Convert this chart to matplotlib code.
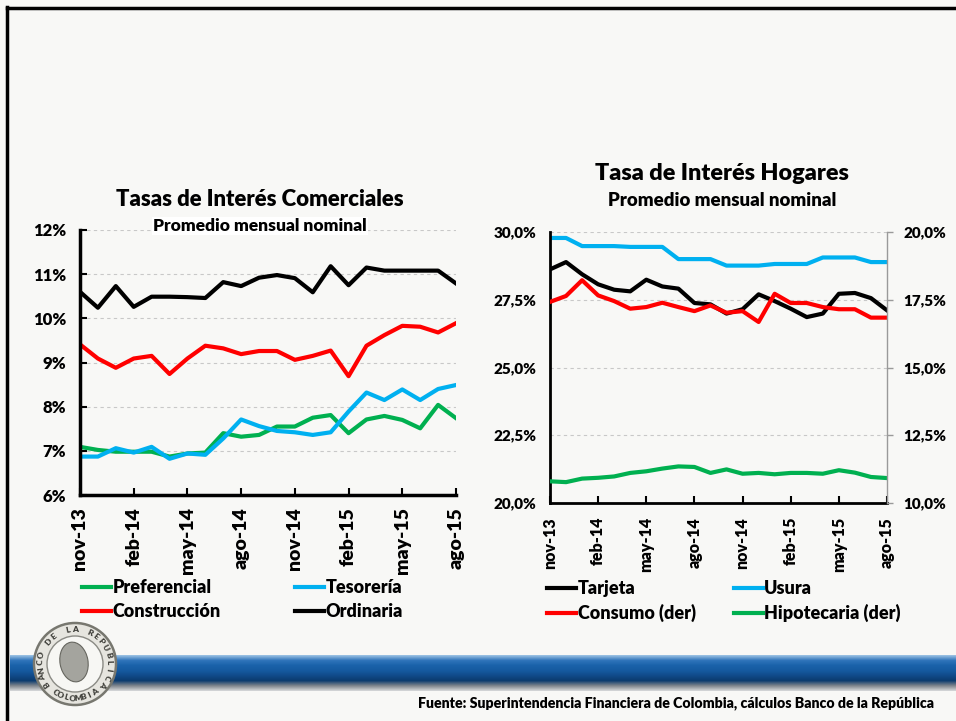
import numpy as np
import matplotlib.pyplot as plt
from matplotlib.patches import Circle, Ellipse
from matplotlib.colors import LinearSegmentedColormap
from matplotlib.ticker import FuncFormatter

plt.rcParams['font.family'] = ['Lato', 'DejaVu Sans']
plt.rcParams['font.weight'] = 'heavy'

meses = ['nov-13', 'dic-13', 'ene-14', 'feb-14', 'mar-14', 'abr-14', 'may-14', 'jun-14',
         'jul-14', 'ago-14', 'sep-14', 'oct-14', 'nov-14', 'dic-14', 'ene-15', 'feb-15',
         'mar-15', 'abr-15', 'may-15', 'jun-15', 'jul-15', 'ago-15']

# tasas comerciales (%)
preferencial = [7.09, 7.02, 6.98, 6.98, 6.98, 6.87, 6.94, 6.96, 7.40, 7.32, 7.36,
                7.55, 7.55, 7.75, 7.81, 7.40, 7.71, 7.79, 7.70, 7.51, 8.04, 7.74]
tesoreria = [6.87, 6.87, 7.06, 6.96, 7.09, 6.82, 6.94, 6.91, 7.28, 7.71, 7.56,
             7.45, 7.42, 7.36, 7.42, 7.89, 8.32, 8.15, 8.39, 8.15, 8.40, 8.49]
construccion = [9.41, 9.09, 8.88, 9.09, 9.15, 8.74, 9.09, 9.38, 9.32, 9.19, 9.26,
                9.26, 9.06, 9.15, 9.27, 8.69, 9.38, 9.62, 9.83, 9.81, 9.68, 9.89]
ordinaria = [10.60, 10.24, 10.73, 10.26, 10.49, 10.49, 10.48, 10.46, 10.82, 10.73, 10.92,
             10.98, 10.91, 10.59, 11.18, 10.75, 11.15, 11.08, 11.08, 11.08, 11.08, 10.79]

# tasas hogares (%)
tarjeta = [28.62, 28.89, 28.44, 28.07, 27.87, 27.81, 28.24, 27.99, 27.91, 27.38, 27.33,
           26.99, 27.15, 27.70, 27.45, 27.17, 26.86, 26.99, 27.72, 27.75, 27.56, 27.11]
usura = [29.78, 29.78, 29.48, 29.48, 29.48, 29.45, 29.45, 29.45, 29.00, 29.00, 29.00,
         28.76, 28.76, 28.76, 28.82, 28.82, 28.82, 29.06, 29.06, 29.06, 28.89, 28.89]
consumo = [17.42, 17.64, 18.22, 17.66, 17.45, 17.17, 17.23, 17.39, 17.23, 17.08, 17.29,
           17.02, 17.08, 16.68, 17.72, 17.38, 17.38, 17.23, 17.15, 17.15, 16.84, 16.84]
hipotecaria = [10.80, 10.77, 10.90, 10.93, 10.98, 11.11, 11.17, 11.27, 11.35, 11.33, 11.11,
               11.24, 11.08, 11.11, 11.06, 11.11, 11.11, 11.08, 11.21, 11.12, 10.96, 10.92]

VERDE = '#00b050'
AZUL = '#00b0f0'
ROJO = '#ff0000'
NEGRO = '#000000'
LW = 3.0

W, H = 956, 721
fig = plt.figure(figsize=(W / 100, H / 100), dpi=100, facecolor='#f8f8f6')


def px_axes(x0, y0, x1, y1, **kw):
    # axes from pixel box (top-left origin)
    return fig.add_axes([x0 / W, 1 - y1 / H, (x1 - x0) / W, (y1 - y0) / H], **kw)


# fondo: marco, banda azul y logo
bg = fig.add_axes([0, 0, 1, 1], zorder=-10)
bg.axis('off')
bg.plot([7, 7], [7, H], color='black', lw=2.5)
bg.plot([7, W], [8, 8], color='black', lw=2.5)

band_cmap = LinearSegmentedColormap.from_list(
    'band', ['#9cc2e4', '#2f74ba', '#1a62aa', '#165aa0', '#104b8a', '#0b3b6e', '#7d838b', '#d5d6d8'])
grad = np.linspace(0, 1, 64).reshape(-1, 1)
bg.imshow(grad, cmap=band_cmap, aspect='auto', extent=(10, W, 691, 655), zorder=1)
bg.set_xlim(0, W)
bg.set_ylim(H, 0)

cx, cy = 75, 664
bg.add_patch(Circle((cx, cy), 41, facecolor='#e6e5df', edgecolor='#77776f', lw=1.8, zorder=3))
bg.add_patch(Circle((cx, cy), 28, facecolor='#f7f7f4', edgecolor='#8a8a84', lw=1.0, zorder=4))
bg.add_patch(Ellipse((cx - 1, cy - 2), 28, 40, angle=-10, facecolor='#a4a49e', edgecolor='#66665f', lw=0.8, zorder=5))
top_txt = 'BANCO DE LA REPUBLICA'
for i, ch in enumerate(top_txt):
    a = np.deg2rad(215 - i * (250 / (len(top_txt) - 1)))
    bg.text(cx + 34.5 * np.cos(a), cy - 34.5 * np.sin(a), ch, fontsize=6, color='#3f3f3a',
            rotation=np.rad2deg(a) - 90, ha='center', va='center', zorder=6)
bot_txt = 'COLOMBIA'
for i, ch in enumerate(bot_txt):
    a = np.deg2rad(-125 + i * (70 / (len(bot_txt) - 1)))
    bg.text(cx + 34.5 * np.cos(a), cy - 34.5 * np.sin(a), ch, fontsize=6, color='#3f3f3a',
            rotation=np.rad2deg(a) + 90, ha='center', va='center', zorder=6)

fig.text(418 / W, 1 - 703 / H,
         'Fuente: Superintendencia Financiera de Colombia, cálculos Banco de la República',
         fontsize=10.2, ha='left', va='center')

x = np.arange(len(meses))
tick_pos = x[::3]
tick_lab = [meses[i] for i in tick_pos]

# ---------- panel izquierdo ----------
ax1 = px_axes(80, 230, 456, 495)
ax1.set_facecolor('none')
ax1.plot(x, preferencial, color=VERDE, lw=LW, label='Preferencial', solid_joinstyle='round')
ax1.plot(x, construccion, color=ROJO, lw=LW, label='Construcción', solid_joinstyle='round')
ax1.plot(x, tesoreria, color=AZUL, lw=LW, label='Tesorería', solid_joinstyle='round')
ax1.plot(x, ordinaria, color=NEGRO, lw=LW, label='Ordinaria', solid_joinstyle='round')
ax1.set_xlim(0, len(meses) - 1)
ax1.set_ylim(6, 12)
ax1.set_yticks(range(6, 13))
ax1.yaxis.set_major_formatter(FuncFormatter(lambda v, p: f'{v:.0f}%'))
ax1.set_xticks(tick_pos)
ax1.set_xticklabels(tick_lab, rotation=90)
ax1.grid(axis='y', color='#c8c8c8', ls=(0, (3, 3)), lw=0.8)
for s in ['top', 'right']:
    ax1.spines[s].set_visible(False)
for s in ['left', 'bottom']:
    ax1.spines[s].set_linewidth(2.5)
ax1.tick_params(axis='both', direction='in', length=5, width=1.5, labelsize=12, pad=6)
ax1.tick_params(axis='x', labelsize=14, pad=9)
ax1.tick_params(axis='y', pad=10)
fig.text(260 / W, 1 - 200 / H, 'Tasas de Interés Comerciales', fontsize=15.9,
         ha='center', va='center')
fig.text(260 / W, 1 - 226 / H, 'Promedio mensual nominal', fontsize=12.5,
         ha='center', va='center', bbox=dict(facecolor='white', edgecolor='none', pad=1))
ax1.legend(loc='upper left', bbox_to_anchor=(82 / W, 1 - 579 / H), bbox_transform=fig.transFigure,
           ncol=2, frameon=False, fontsize=13, handlelength=1.6, handletextpad=0.1,
           columnspacing=4.1, labelspacing=0.4, borderaxespad=0, borderpad=0)

# ---------- panel derecho ----------
ax2 = px_axes(550, 232, 887, 503)
ax2.set_facecolor('none')
l1, = ax2.plot(x, tarjeta, color=NEGRO, lw=LW, label='Tarjeta', solid_joinstyle='round')
l2, = ax2.plot(x, usura, color=AZUL, lw=LW, label='Usura', solid_joinstyle='round')
ax2.set_xlim(0, len(meses) - 1)
ax2.set_ylim(20, 30)
ax2.set_yticks(np.arange(20, 30.1, 2.5))
ax2.yaxis.set_major_formatter(FuncFormatter(lambda v, p: f'{v:.1f}%'.replace('.', ',')))
ax2.set_xticks(tick_pos)
ax2.set_xticklabels(tick_lab, rotation=90)
ax2.grid(axis='y', color='#c8c8c8', ls=(0, (3, 3)), lw=0.8)
ax2.spines['top'].set_visible(False)
ax2.spines['right'].set_visible(False)
for s in ['left', 'bottom']:
    ax2.spines[s].set_linewidth(2.0)
ax2.tick_params(axis='both', direction='in', length=5, width=1.5, labelsize=11, pad=6)
ax2.tick_params(axis='x', labelsize=11.5, pad=10)
ax2.tick_params(axis='y', pad=10, length=0)

ax3 = ax2.twinx()
ax3.set_facecolor('none')
l3, = ax3.plot(x, consumo, color=ROJO, lw=LW, label='Consumo (der)', solid_joinstyle='round')
l4, = ax3.plot(x, hipotecaria, color=VERDE, lw=LW, label='Hipotecaria (der)', solid_joinstyle='round')
ax3.set_ylim(10, 20)
ax3.set_yticks(np.arange(10, 20.1, 2.5))
ax3.yaxis.set_major_formatter(FuncFormatter(lambda v, p: f'{v:.1f}%'.replace('.', ',')))
for s in ['top', 'left', 'bottom']:
    ax3.spines[s].set_visible(False)
ax3.spines['right'].set_color('#9a9a9a')
ax3.spines['right'].set_linewidth(1.0)
ax3.tick_params(axis='y', direction='out', length=4, width=1, color='#9a9a9a', labelsize=11, pad=8)

fig.text(722 / W, 1 - 173 / H, 'Tasa de Interés Hogares', fontsize=16.8,
         ha='center', va='center')
fig.text(722 / W, 1 - 200 / H, 'Promedio mensual nominal', fontsize=13.4,
         ha='center', va='center')
ax2.legend(handles=[l1, l3, l2, l4], loc='upper left', bbox_to_anchor=(547 / W, 1 - 580 / H),
           bbox_transform=fig.transFigure, ncol=2, frameon=False, fontsize=13,
           handlelength=1.6, handletextpad=0.1, columnspacing=2.1, labelspacing=0.4,
           borderaxespad=0, borderpad=0)

fig.savefig('out.png', dpi=100, facecolor=fig.get_facecolor())
